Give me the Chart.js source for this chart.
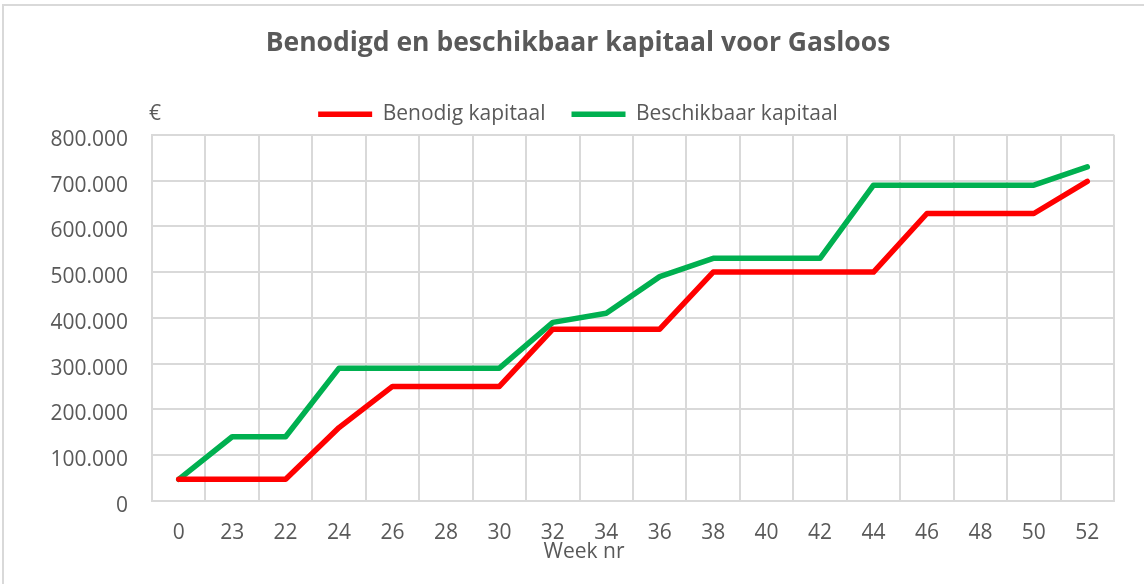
<!DOCTYPE html>
<html>
<head>
<meta charset="utf-8">
<script src="https://cdn.jsdelivr.net/npm/chart.js@4.4.1/dist/chart.umd.min.js"></script>
<style>
  html, body { margin: 0; padding: 0; background: #fff; }
  #wrap { position: relative; width: 1144px; height: 584px; }
</style>
</head>
<body>
<div id="wrap"><canvas id="c" width="1144" height="584"></canvas></div>
<script>
const weeks = ['0','23','22','24','26','28','30','32','34','36','38','40','42','44','46','48','50','52'];
const benodigdKapitaal = [47000, 47000, 47000, 160000, 250000, 250000, 250000, 375000, 375000, 375000, 500000, 500000, 500000, 500000, 628000, 628000, 628000, 698000];
const beschikbaarKapitaal = [47000, 140000, 140000, 290000, 290000, 290000, 290000, 390000, 410000, 490000, 530000, 530000, 530000, 690000, 690000, 690000, 690000, 730000];
const yTicks = [0, 100000, 200000, 300000, 400000, 500000, 600000, 700000, 800000];
const xAxisTitle = 'Week nr';
const yAxisTitle = '€';

const FONT = "'Open Sans', 'Noto Sans', sans-serif";
const TXT = '#595959';
const GRID = '#d9d9d9';

function fmt(v) {
  return String(v).replace(/\B(?=(\d{3})+(?!\d))/g, '.');
}

const framePlugin = {
  id: 'frame',
  beforeDraw(chart) {
    const ctx = chart.ctx;
    ctx.save();
    ctx.fillStyle = '#fff';
    ctx.fillRect(0, 0, chart.width, chart.height);
    ctx.strokeStyle = GRID;
    ctx.lineWidth = 2;
    ctx.beginPath();
    ctx.moveTo(3, chart.height);
    ctx.lineTo(3, 5);
    ctx.lineTo(chart.width, 5);
    ctx.stroke();
    ctx.restore();
  },
  afterDraw(chart) {
    const ctx = chart.ctx;
    const lg = chart.legend;
    ctx.save();
    ctx.fillStyle = TXT;
    ctx.font = "21px " + FONT;
    ctx.textBaseline = 'middle';
    const hb = lg.legendHitBoxes && lg.legendHitBoxes[0];
    const y = hb ? hb.top + hb.height / 2 : lg.top + lg.height / 2;
    ctx.textAlign = 'left';
    ctx.fillText(yAxisTitle, chart.chartArea.left - 3, y);
    // x-axis title, centred on the chart (as in the original), below the tick labels
    ctx.textAlign = 'center';
    ctx.fillText(xAxisTitle, chart.width / 2 + 12, chart.scales.x.bottom - 14);
    ctx.restore();
  }
};

new Chart(document.getElementById('c'), {
  type: 'line',
  data: {
    labels: weeks,
    datasets: [
      {
        label: 'Benodig kapitaal',
        data: benodigdKapitaal,
        borderColor: '#ff0000',
        backgroundColor: '#ff0000',
        borderWidth: 5.5,
        borderCapStyle: 'round',
        borderJoinStyle: 'round',
        pointRadius: 0,
        tension: 0,
        fill: false
      },
      {
        label: 'Beschikbaar kapitaal',
        data: beschikbaarKapitaal,
        borderColor: '#00b050',
        backgroundColor: '#00b050',
        borderWidth: 5.5,
        borderCapStyle: 'round',
        borderJoinStyle: 'round',
        pointRadius: 0,
        tension: 0,
        fill: false
      }
    ]
  },
  options: {
    responsive: false,
    animation: false,
    layout: { padding: { left: 42, right: 30, top: 0, bottom: 18 } },
    plugins: {
      title: {
        display: true,
        text: 'Benodigd en beschikbaar kapitaal voor Gasloos',
        color: TXT,
        font: { family: FONT, size: 26.5, weight: 'bold' },
        padding: { top: 28, bottom: 18 }
      },
      legend: {
        display: true,
        position: 'top',
        labels: {
          color: TXT,
          font: { family: FONT, size: 21 },
          usePointStyle: true,
          pointStyle: 'line',
          pointStyleWidth: 54,
          padding: 26
        }
      },
      tooltip: { enabled: false }
    },
    scales: {
      x: {
        type: 'category',
        offset: true,
        grid: { color: GRID, lineWidth: 2, offset: true, drawTicks: false },
        border: { color: GRID, width: 2 },
        ticks: { color: TXT, font: { family: FONT, size: 21 }, padding: 20, maxRotation: 0, autoSkip: false },
        title: { display: false }
      },
      y: {
        min: 0,
        max: 800000,
        afterBuildTicks(scale) { scale.ticks = yTicks.map(v => ({ value: v })); },
        afterFit(scale) { scale.width = 110; },
        grid: { color: GRID, lineWidth: 2, drawTicks: false },
        border: { color: GRID, width: 2 },
        ticks: {
          color: TXT,
          font: { family: FONT, size: 21 },
          padding: 24,
          labelOffset: 5,
          callback: v => fmt(v)
        }
      }
    }
  },
  plugins: [framePlugin]
});
</script>
</body>
</html>
